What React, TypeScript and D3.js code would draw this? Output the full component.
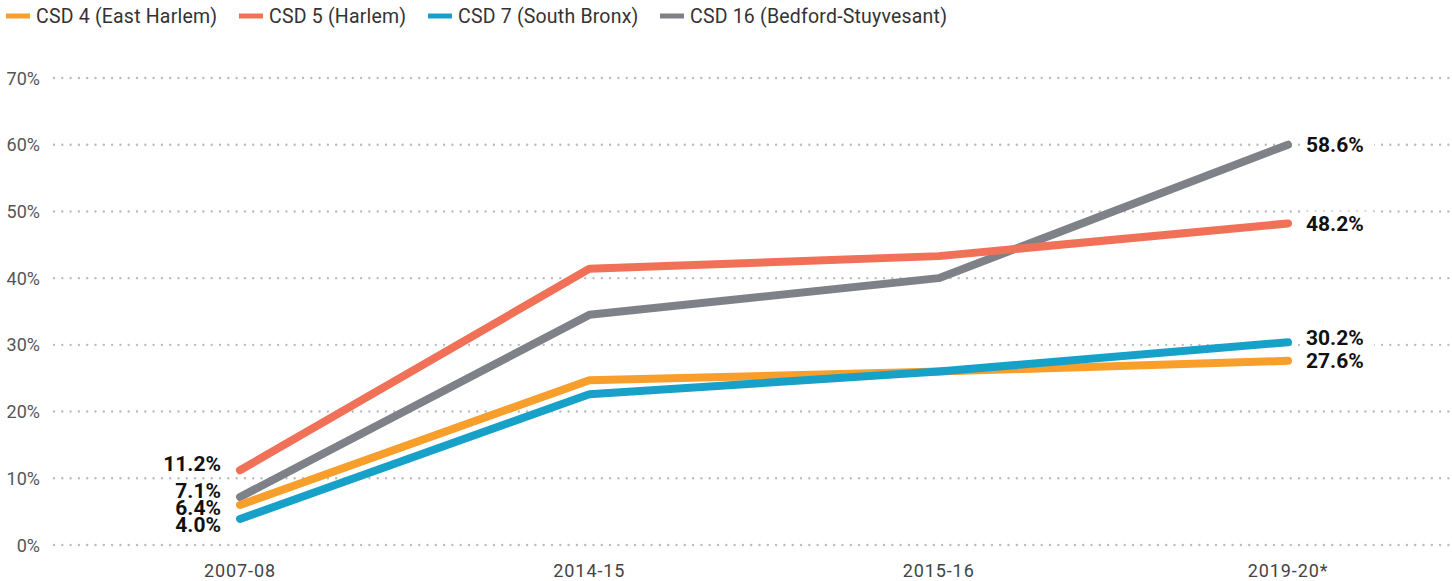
import * as d3 from 'd3';

const years = ['2007-08', '2014-15', '2015-16', '2019-20*'];
const yTicks = [0, 10, 20, 30, 40, 50, 60, 70];

const seriesNames = ['CSD 4 (East Harlem)', 'CSD 5 (Harlem)', 'CSD 7 (South Bronx)', 'CSD 16 (Bedford-Stuyvesant)'];
const seriesColors = ['#F79E2B', '#F07058', '#17A1C9', '#7F8189'];

const csd4 = [6.0, 24.7, 26.0, 27.6];
const csd5 = [11.2, 41.4, 43.3, 48.2];
const csd7 = [3.9, 22.6, 26.0, 30.4];
const csd16 = [7.2, 34.5, 40.0, 60.0];

const startLabels = ['6.4%', '11.2%', '4.0%', '7.1%'];
const endLabels = ['27.6%', '48.2%', '30.2%', '58.6%'];

const allSeries = [csd4, csd5, csd7, csd16];

// label vertical nudges (px) so stacked labels sit like the original
const startOffsets = [3, -7, 6, -6];
const endOffsets = [0, 0, -5, 0];

const legendX = [6, 239, 428, 660];

const W = 1452;
const H = 581;

export default function App() {
  const x = d3.scalePoint<string>().domain(years).range([240, 1288]);
  const y = d3.scaleLinear().domain([0, 70]).range([545, 78]);

  const line = d3
    .line<number>()
    .x((_, i) => x(years[i])!)
    .y((d) => y(d));

  // red drawn over gray at the crossing
  const drawOrder = [3, 0, 2, 1];

  return (
    <svg width={W} height={H} style={{ position: 'absolute', left: 0, top: 0, fontFamily: 'Roboto, sans-serif' }}>
      {/* legend */}
      {seriesNames.map((name, i) => (
        <g key={name} transform={`translate(${legendX[i]},16)`}>
          <line x1={0} x2={24} y1={0} y2={0} stroke={seriesColors[i]} strokeWidth={5} />
          <text x={30} y={7} fontSize={19.5} fill="#333" letterSpacing={0.2}>
            {name}
          </text>
        </g>
      ))}

      {/* grid */}
      {yTicks.map((t) => (
        <g key={t}>
          <line
            x1={54}
            x2={W}
            y1={y(t)}
            y2={y(t)}
            stroke="#BBBBBB"
            strokeWidth={2.4}
            strokeLinecap="round"
            strokeDasharray="0,8.3"
          />
          <text x={40} y={y(t) + 6.5} textAnchor="end" fontSize={18} fill="#555">
            {t}%
          </text>
        </g>
      ))}

      {/* x axis labels */}
      {years.map((yr) => (
        <text key={yr} x={x(yr)} y={577} textAnchor="middle" fontSize={18} fill="#444" letterSpacing={0.9}>
          {yr}
        </text>
      ))}

      {/* lines */}
      {drawOrder.map((i) => (
        <path
          key={i}
          d={line(allSeries[i])!}
          fill="none"
          stroke={seriesColors[i]}
          strokeWidth={8}
          strokeLinecap="round"
          strokeLinejoin="round"
        />
      ))}

      {/* start labels */}
      {allSeries.map((s, i) => (
        <text
          key={'s' + i}
          x={x(years[0])! - 19}
          y={y(s[0]) + startOffsets[i] + 7.5}
          textAnchor="end"
          fontSize={21}
          fontWeight="bold"
          fill="#111"
        >
          {startLabels[i]}
        </text>
      ))}

      {/* end labels */}
      {allSeries.map((s, i) => (
        <g key={'e' + i}>
          <rect
            x={x(years[3])! + 14}
            y={y(s[3]) + endOffsets[i] - 12}
            width={72}
            height={22}
            fill="#fff"
          />
          <text
            x={x(years[3])! + 18}
            y={y(s[3]) + endOffsets[i] + 7.5}
            fontSize={21}
            fontWeight="bold"
            fill="#111"
          >
            {endLabels[i]}
          </text>
        </g>
      ))}
    </svg>
  );
}
